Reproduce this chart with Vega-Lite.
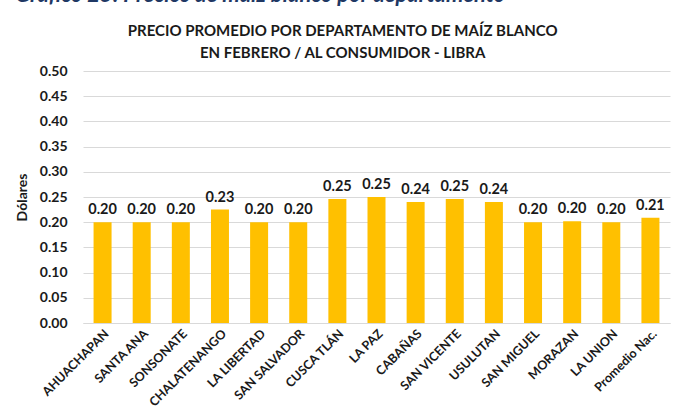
{
  "$schema": "https://vega.github.io/schema/vega-lite/v6.json",
  "padding": {"top": -16, "left": 15, "right": 6, "bottom": 0},
  "background": "white",
  "title": {
    "text": "Gráfico 25: Precios de maíz blanco por departamento",
    "anchor": "start",
    "frame": "bounds",
    "font": "Lato",
    "fontSize": 22,
    "fontStyle": "italic",
    "fontWeight": "bold",
    "color": "#1F3864",
    "offset": 17
  },
  "config": {
    "font": "Lato",
    "view": {"stroke": null}
  },
  "vconcat": [
    {
      "width": 587,
      "height": 252,
      "title": {
        "text": ["PRECIO PROMEDIO POR DEPARTAMENTO DE MAÍZ BLANCO", "EN FEBRERO / AL CONSUMIDOR - LIBRA"],
        "anchor": "middle",
        "frame": "bounds",
        "fontSize": 15,
        "fontWeight": "bold",
        "color": "#1a1a1a",
        "lineHeight": 22,
        "offset": 3
      },
      "data": {
        "values": [
          {"depto": "AHUACHAPAN", "precio": 0.20},
          {"depto": "SANTA ANA", "precio": 0.20},
          {"depto": "SONSONATE", "precio": 0.20},
          {"depto": "CHALATENANGO", "precio": 0.225},
          {"depto": "LA LIBERTAD", "precio": 0.20},
          {"depto": "SAN SALVADOR", "precio": 0.20},
          {"depto": "CUSCA TLÁN", "precio": 0.246},
          {"depto": "LA PAZ", "precio": 0.25},
          {"depto": "CABAÑAS", "precio": 0.24},
          {"depto": "SAN VICENTE", "precio": 0.246},
          {"depto": "USULUTAN", "precio": 0.24},
          {"depto": "SAN MIGUEL", "precio": 0.20},
          {"depto": "MORAZAN", "precio": 0.202},
          {"depto": "LA UNION", "precio": 0.20},
          {"depto": "Promedio Nac.", "precio": 0.209}
        ]
      },
      "encoding": {
        "x": {
          "field": "depto",
          "type": "nominal",
          "sort": null,
          "scale": {"paddingInner": 0.54, "paddingOuter": 0.27},
          "axis": {
            "title": null,
            "labelAngle": -45,
            "labelFontSize": 12.5,
            "labelFontWeight": "bold",
            "labelColor": "#1a1a1a",
            "ticks": false,
            "domainColor": "#d9d9d9",
            "labelPadding": 4
          }
        },
        "y": {
          "field": "precio",
          "type": "quantitative",
          "scale": {"domain": [0, 0.5]},
          "axis": {
            "title": "Dólares",
            "titleFontSize": 14,
            "titleFontWeight": "bold",
            "titleColor": "#1a1a1a",
            "titlePadding": 10,
            "values": [0, 0.05, 0.1, 0.15, 0.2, 0.25, 0.3, 0.35, 0.4, 0.45, 0.5],
            "format": ".2f",
            "labelFontSize": 14,
            "labelFontWeight": "bold",
            "labelColor": "#1a1a1a",
            "ticks": false,
            "domain": false,
            "gridColor": "#d9d9d9",
            "labelPadding": 16
          }
        }
      },
      "layer": [
        {"mark": {"type": "bar", "color": "#FFC000"}},
        {
          "mark": {"type": "text", "dy": -12, "fontSize": 14.5, "fontWeight": "bold", "color": "#1a1a1a"},
          "encoding": {"text": {"field": "precio", "type": "quantitative", "format": ".2f"}}
        }
      ]
    }
  ]
}
